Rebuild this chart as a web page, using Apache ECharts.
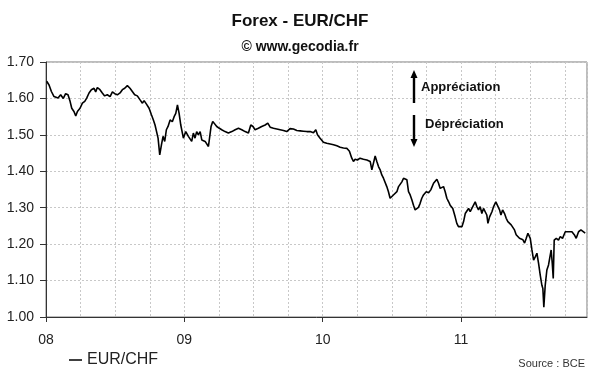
<!DOCTYPE html>
<html><head><meta charset="utf-8">
<script src="https://cdn.jsdelivr.net/npm/echarts@6/dist/echarts.min.js"></script>
<style>html,body{margin:0;padding:0;background:#fff}#c{width:600px;height:372px}</style>
</head><body><div id="c"></div>
<script>
// decimal years
const years = [
2008.005,2008.022,2008.039,2008.058,2008.070,2008.087,2008.106,2008.125,2008.142,2008.159,
2008.174,2008.186,2008.202,2008.215,2008.227,2008.246,2008.263,2008.280,2008.294,2008.311,
2008.328,2008.347,2008.359,2008.371,2008.390,2008.407,2008.424,2008.443,2008.463,2008.480,
2008.497,2008.516,2008.535,2008.552,2008.569,2008.588,2008.607,2008.624,2008.641,2008.660,
2008.680,2008.697,2008.709,2008.725,2008.745,2008.762,2008.776,2008.788,2008.798,2008.810,
2008.822,2008.834,2008.846,2008.858,2008.870,2008.882,2008.897,2008.913,2008.926,2008.938,
2008.950,2008.962,2008.974,2008.993,2009.010,2009.029,
2009.041,2009.053,2009.065,2009.077,2009.089,2009.101,2009.114,2009.126,2009.138,2009.150,
2009.162,2009.174,2009.186,2009.193,2009.205,2009.217,2009.234,2009.253,2009.270,2009.294,
2009.318,2009.343,2009.367,2009.391,2009.415,2009.439,2009.463,2009.480,2009.496,2009.511,
2009.535,2009.559,2009.584,2009.603,2009.620,2009.644,2009.668,2009.692,2009.716,2009.740,
2009.764,2009.788,2009.813,2009.837,2009.861,2009.885,2009.909,2009.933,2009.950,2009.962,
2009.981,
2010.005,2010.029,2010.054,2010.078,2010.102,2010.126,2010.150,2010.174,2010.193,2010.210,
2010.222,2010.234,2010.251,2010.270,2010.294,2010.319,2010.343,2010.355,2010.367,2010.379,
2010.391,2010.403,2010.415,2010.427,2010.439,2010.451,2010.463,2010.475,2010.487,2010.499,
2010.511,2010.524,2010.536,2010.548,2010.560,2010.572,2010.584,2010.596,2010.608,2010.620,
2010.632,2010.644,2010.656,2010.668,2010.680,2010.692,2010.704,2010.716,2010.728,2010.748,
2010.765,2010.781,2010.801,2010.813,2010.825,2010.837,2010.849,2010.861,2010.873,2010.885,
2010.897,2010.909,2010.921,2010.940,2010.957,2010.969,2010.981,2010.993,
2011.006,2011.018,2011.030,2011.042,2011.054,2011.066,2011.078,2011.090,2011.102,2011.114,
2011.126,2011.138,2011.150,2011.162,2011.174,2011.186,2011.194,2011.206,2011.223,2011.235,
2011.251,2011.263,2011.278,2011.288,2011.300,2011.314,2011.326,2011.338,2011.350,2011.362,
2011.374,2011.386,2011.398,2011.410,2011.422,2011.435,2011.447,2011.459,2011.471,2011.483,
2011.492,2011.500,2011.512,2011.524,2011.536,2011.548,2011.560,2011.572,2011.584,2011.591,
2011.598,2011.608,2011.620,2011.632,2011.644,2011.651,2011.659,2011.666,2011.673,2011.688,
2011.704,2011.717,2011.733,2011.753,2011.765,2011.782,2011.801,2011.818,2011.832,2011.849,
2011.866,2011.880,2011.897
];
const eurchf = [
1.647,1.637,1.619,1.605,1.610,1.601,1.610,1.600,1.613,1.610,
1.592,1.573,1.564,1.552,1.564,1.573,1.587,1.592,1.601,1.615,
1.624,1.628,1.618,1.630,1.624,1.615,1.607,1.610,1.605,1.618,
1.613,1.610,1.615,1.624,1.628,1.635,1.628,1.619,1.610,1.607,
1.596,1.587,1.594,1.585,1.573,1.555,1.541,1.527,1.532,1.491,
1.445,1.472,1.496,1.482,1.514,1.523,1.541,1.536,1.550,1.559,
1.582,1.559,1.527,1.491,1.509,1.496,
1.495,1.482,1.505,1.491,1.509,1.500,1.509,1.486,1.491,1.482,
1.477,1.468,1.463,1.523,1.537,1.532,1.523,1.518,1.514,1.509,
1.505,1.509,1.514,1.518,1.514,1.509,1.505,1.527,1.523,1.514,
1.518,1.523,1.527,1.532,1.521,1.518,1.516,1.514,1.512,1.509,
1.517,1.516,1.512,1.511,1.510,1.509,1.509,1.506,1.514,1.500,
1.491,
1.480,1.477,1.475,1.473,1.470,1.466,1.464,1.463,1.455,1.436,
1.427,1.433,1.431,1.436,1.433,1.431,1.427,1.404,1.409,1.442,
1.427,1.413,1.404,1.390,1.381,1.377,1.358,1.344,1.326,1.331,
1.335,1.340,1.344,1.358,1.363,1.371,1.381,1.384,1.377,1.344,
1.335,1.322,1.307,1.294,1.290,1.301,1.312,1.326,1.335,1.344,
1.341,1.349,1.367,1.371,1.378,1.367,1.353,1.349,1.358,1.344,
1.326,1.317,1.307,1.298,1.275,1.257,1.248,1.253,
1.248,1.262,1.284,1.289,1.298,1.289,1.298,1.303,1.316,1.303,
1.294,1.303,1.284,1.298,1.294,1.280,1.257,1.275,1.289,1.303,
1.316,1.312,1.294,1.280,1.294,1.284,1.271,1.262,1.266,1.253,
1.257,1.239,1.226,1.221,1.216,1.221,1.212,1.203,1.216,1.230,
1.234,1.216,1.184,1.156,1.165,1.175,1.147,1.115,1.087,1.078,
1.027,1.087,1.129,1.143,1.138,1.184,1.147,1.106,1.211,1.216,
1.211,1.221,1.216,1.234,1.239,1.234,1.234,1.226,1.216,1.234,
1.239,1.234,1.230
];
const yearLabels = {2008:'08',2009:'09',2010:'10',2011:'11'};
const seriesName = 'EUR/CHF';

const FONT = 'Arial, "Liberation Sans", sans-serif';
const data = years.map((y,i)=>[y, eurchf[i]]);
const chart = echarts.init(document.getElementById('c'), null, {renderer:'canvas'});
const xMin = 2008, xMax = 2011.91;
chart.setOption({
  animation:false,
  backgroundColor:'#fff',
  textStyle:{fontFamily:FONT},
  title:[
    {text:'Forex - EUR/CHF', left:'center', top:8, textStyle:{fontFamily:FONT,fontSize:17,fontWeight:'bold',color:'#111'}},
    {text:'© www.gecodia.fr', left:'center', top:35, textStyle:{fontFamily:FONT,fontSize:14,fontWeight:'bold',color:'#111'}},
    {text:'Source : BCE', right:10, top:353, textStyle:{fontFamily:FONT,fontSize:11,fontWeight:'normal',color:'#333'}}
  ],
  legend:{left:64, top:347, icon:'rect', itemWidth:13, itemHeight:1.5, itemGap:3,
    textStyle:{fontFamily:FONT,fontSize:16,color:'#222'}, data:[seriesName]},
  grid:{left:46, right:13, top:62, bottom:55, show:true, borderColor:'#7a7a7a', borderWidth:1, backgroundColor:'transparent'},
  xAxis:[
    {type:'value', min:xMin, max:xMax, interval:1, position:'bottom',
     axisLine:{lineStyle:{color:'#333',width:1}},
     axisTick:{show:true,length:5,inside:false,lineStyle:{color:'#333'}},
     axisLabel:{margin:16,fontFamily:FONT,fontSize:14,color:'#222',showMaxLabel:false,
       formatter:v=>yearLabels[Math.round(v)]||''},
     splitLine:{show:false}},
    {type:'value', min:xMin, max:xMax, interval:0.25, position:'bottom',
     axisLine:{show:false}, axisTick:{show:false}, axisLabel:{show:false},
     splitLine:{show:true,lineStyle:{color:'#c8c8c8',type:[2,2],width:1}}}
  ],
  yAxis:{type:'value', min:1.0, max:1.7, interval:0.1,
    axisLine:{show:true,lineStyle:{color:'#333',width:1}},
    axisTick:{show:true,length:6,lineStyle:{color:'#333'}},
    axisLabel:{margin:12,fontFamily:FONT,fontSize:14,color:'#222',formatter:v=>v.toFixed(2)},
    splitLine:{show:true,lineStyle:{color:'#c8c8c8',type:[2,2],width:1}}},
  series:[{name:seriesName, type:'line', xAxisIndex:0, data:data, showSymbol:false, symbol:'none',
    lineStyle:{color:'#000',width:1.6}, itemStyle:{color:'#000'}, z:5}],
  graphic:[
    {type:'polygon', z:100, shape:{points:[[412.8,103],[412.8,78],[410.5,78],[414,70],[417.5,78],[415.2,78],[415.2,103]]}, style:{fill:'#000'}},
    {type:'text', z:100, x:421, y:81, style:{text:'Appréciation', font:'bold 13px '+FONT, fill:'#111'}},
    {type:'polygon', z:100, shape:{points:[[412.8,115],[412.8,139],[410.5,139],[414,147],[417.5,139],[415.2,139],[415.2,115]]}, style:{fill:'#000'}},
    {type:'text', z:100, x:425, y:118, style:{text:'Dépréciation', font:'bold 13px '+FONT, fill:'#111'}}
  ]
});
</script></body></html>
